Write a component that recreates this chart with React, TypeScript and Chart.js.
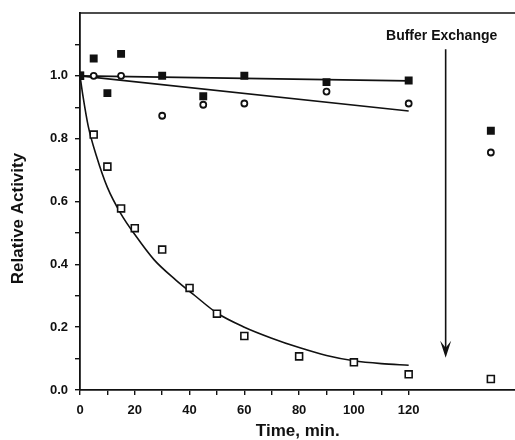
import React, { useEffect, useRef } from "react";
import { Chart, registerables } from "chart.js";

Chart.register(...registerables);

// ---- data ----
const filledT = [0, 5, 10, 15, 30, 45, 60, 90, 120, 150];
const filledY = [1.0, 1.055, 0.945, 1.07, 1.0, 0.935, 1.0, 0.98, 0.985, 0.825];

const circleT = [0, 5, 15, 30, 45, 60, 90, 120, 150];
const circleY = [1.0, 1.0, 1.0, 0.873, 0.908, 0.912, 0.95, 0.912, 0.756];

const openT = [0, 5, 10, 15, 20, 30, 40, 50, 60, 80, 100, 120, 150];
const openY = [1.0, 0.813, 0.711, 0.578, 0.515, 0.447, 0.325, 0.243, 0.172, 0.107, 0.088, 0.05, 0.035];

const filledFitT = [0, 120];
const filledFitY = [1.0, 0.984];

const circleFitT = [0, 120];
const circleFitY = [1.0, 0.888];

const decayFitT = [0, 1, 3, 6, 10, 15, 20, 27, 35, 42, 50, 60, 70, 80, 90, 100, 110, 120];
const decayFitY = [1.0, 0.94, 0.84, 0.745, 0.645, 0.56, 0.495, 0.415, 0.35, 0.3, 0.245, 0.2, 0.165, 0.135, 0.11, 0.093, 0.084, 0.079];

const xTickValues = [0, 10, 20, 30, 40, 50, 60, 70, 80, 90, 100, 110, 120];
const xTickLabels = ["0", "", "20", "", "40", "", "60", "", "80", "", "100", "", "120"];
const yTickValues = [0, 0.1, 0.2, 0.3, 0.4, 0.5, 0.6, 0.7, 0.8, 0.9, 1.0, 1.1];
const yTickLabels = ["0.0", "", "0.2", "", "0.4", "", "0.6", "", "0.8", "", "1.0", ""];

const xMin = 0;
const xMax = 159;
const yMin = 0;
const yMax = 1.2;

const arrowT = 133.5;
const arrowTop = 1.085;
const arrowBottom = 0.103;
const annotationText = "Buffer Exchange";
const annotationY = 1.127;

const xTitle = "Time, min.";
const yTitle = "Relative Activity";

const FONT = "'Liberation Sans', Arial, Helvetica, sans-serif";
const INK = "#111111";

const pts = (t: number[], y: number[]) => t.map((v, i) => ({ x: v, y: y[i] }));

const decorPlugin = {
  id: "decor",
  afterDraw(chart: any) {
    const { ctx, chartArea, scales } = chart;
    const xs = scales.x;
    const ys = scales.y;
    ctx.save();
    // top frame line
    ctx.strokeStyle = INK;
    ctx.lineWidth = 1.6;
    ctx.beginPath();
    ctx.moveTo(chartArea.left - 1, chartArea.top);
    ctx.lineTo(chartArea.right, chartArea.top);
    ctx.stroke();

    // arrow
    const ax = xs.getPixelForValue(arrowT);
    const aTop = ys.getPixelForValue(arrowTop);
    const aBot = ys.getPixelForValue(arrowBottom);
    ctx.lineWidth = 1.6;
    ctx.beginPath();
    ctx.moveTo(ax, aTop);
    ctx.lineTo(ax, aBot - 8);
    ctx.stroke();
    ctx.fillStyle = INK;
    ctx.beginPath();
    ctx.moveTo(ax, aBot);
    ctx.lineTo(ax - 5.5, aBot - 17);
    ctx.lineTo(ax, aBot - 10);
    ctx.lineTo(ax + 5.5, aBot - 17);
    ctx.closePath();
    ctx.fill();

    // annotation text
    ctx.font = `bold 14px ${FONT}`;
    ctx.textAlign = "center";
    ctx.textBaseline = "middle";
    ctx.fillText(annotationText, ax - 4, ys.getPixelForValue(annotationY));

    // y title
    ctx.font = `bold 17px ${FONT}`;
    ctx.translate(18, (chartArea.top + chartArea.bottom) / 2 + 17);
    ctx.rotate(-Math.PI / 2);
    ctx.fillText(yTitle, 0, 0);
    ctx.restore();
  },
};

export default function App() {
  const ref = useRef<HTMLCanvasElement | null>(null);

  useEffect(() => {
    if (!ref.current) return;
    const chart = new Chart(ref.current, {
      type: "scatter",
      data: {
        datasets: [
          {
            label: "filled",
            data: pts(filledT, filledY),
            pointStyle: "rect",
            pointRadius: 5.6,
            pointBackgroundColor: INK,
            pointBorderColor: INK,
            pointBorderWidth: 0,
            showLine: false,
            order: 0,
          },
          {
            label: "circle",
            data: pts(circleT, circleY),
            pointStyle: "circle",
            pointRadius: 3,
            pointBackgroundColor: "#ffffff",
            pointBorderColor: INK,
            pointBorderWidth: 1.8,
            showLine: false,
            order: 1,
          },
          {
            label: "open",
            data: pts(openT, openY),
            pointStyle: "rect",
            pointRadius: 4.9,
            pointBackgroundColor: "#ffffff",
            pointBorderColor: INK,
            pointBorderWidth: 1.6,
            showLine: false,
            order: 2,
          },
          {
            label: "filledFit",
            data: pts(filledFitT, filledFitY),
            showLine: true,
            pointRadius: 0,
            borderColor: INK,
            borderWidth: 1.6,
            order: 5,
          },
          {
            label: "circleFit",
            data: pts(circleFitT, circleFitY),
            showLine: true,
            pointRadius: 0,
            borderColor: INK,
            borderWidth: 1.6,
            order: 6,
          },
          {
            label: "decayFit",
            data: pts(decayFitT, decayFitY),
            showLine: true,
            pointRadius: 0,
            borderColor: INK,
            borderWidth: 1.6,
            cubicInterpolationMode: "monotone",
            order: 7,
          },
        ],
      },
      options: {
        animation: false,
        responsive: false,
        maintainAspectRatio: false,
        layout: { padding: { top: 13, right: 0, left: 0, bottom: 0 } },
        plugins: {
          legend: { display: false },
          tooltip: { enabled: false },
        },
        scales: {
          x: {
            type: "linear",
            min: xMin,
            max: xMax,
            afterBuildTicks: (axis: any) => {
              axis.ticks = xTickValues.map((v) => ({ value: v }));
            },
            afterFit: (s: any) => {
              s.height = 50;
              s.paddingLeft = 0;
              s.paddingRight = 0;
            },
            ticks: {
              autoSkip: false,
              maxRotation: 0,
              padding: 8,
              color: INK,
              font: { family: FONT, size: 13, weight: "bold" },
              callback: (_v: any, i: number) => xTickLabels[i],
            },
            grid: { drawOnChartArea: false, tickLength: 5, color: INK, lineWidth: 1.4 },
            border: { color: INK, width: 1.8 },
            title: {
              display: true,
              text: xTitle,
              color: INK,
              font: { family: FONT, size: 17, weight: "bold", lineHeight: 1 },
              padding: { top: 0, bottom: 0 },
            },
          },
          y: {
            type: "linear",
            min: yMin,
            max: yMax,
            afterBuildTicks: (axis: any) => {
              axis.ticks = yTickValues.map((v) => ({ value: v }));
            },
            afterFit: (s: any) => {
              s.width = 80;
              s.paddingTop = 0;
              s.paddingBottom = 0;
            },
            ticks: {
              autoSkip: false,
              padding: 7,
              color: INK,
              font: { family: FONT, size: 13, weight: "bold" },
              callback: (_v: any, i: number) => yTickLabels[i],
            },
            grid: { drawOnChartArea: false, tickLength: 5, color: INK, lineWidth: 1.4 },
            border: { color: INK, width: 1.8 },
          },
        },
      },
      plugins: [decorPlugin],
    } as any);
    return () => chart.destroy();
  }, []);

  return (
    <div
      style={{
        position: "fixed",
        left: 0,
        top: 0,
        width: 515,
        height: 440,
        overflow: "hidden",
        background: "#fff",
      }}
    >
      <canvas ref={ref} width={522} height={440} style={{ display: "block", width: 522, height: 440 }} />
    </div>
  );
}
